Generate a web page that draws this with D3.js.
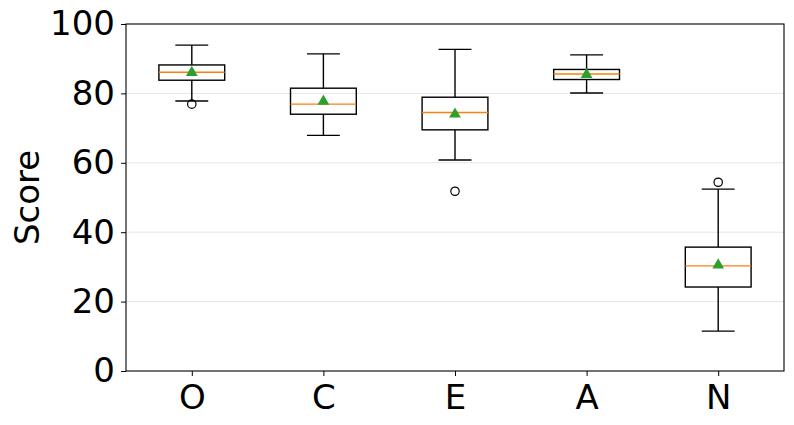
<!DOCTYPE html>
<html>
<head>
<meta charset="utf-8">
<script src="https://cdn.jsdelivr.net/npm/d3@7"></script>
<style>
  body { margin: 0; background: #fff; }
  svg text { font-family: "DejaVu Sans", sans-serif; fill: #000; }
</style>
</head>
<body>
<div id="chart"></div>
<script>
// DATA
var traits   = ['O', 'C', 'E', 'A', 'N'];
var whiskLo  = [77.8, 67.9, 60.8, 80.1, 11.5];
var q1       = [83.8, 74.0, 69.5, 84.0, 24.2];
var median   = [86.1, 76.9, 74.5, 85.6, 30.3];
var q3       = [88.2, 81.5, 78.9, 86.9, 35.7];
var whiskHi  = [93.9, 91.4, 92.7, 91.1, 52.4];
var means    = [86.0, 77.7, 74.0, 85.4, 30.5];
var outliers = [[76.9], [], [51.8], [], [54.4]];
var yTicks   = [0, 20, 40, 60, 80, 100];

// SET UP DIMENSIONS
var W = 794, H = 425;
var margin = { top: 24, right: 10, bottom: 54, left: 126 };
var w = 784 - margin.left,
    h = 371 - margin.top;

var svg = d3.select('#chart').append('svg')
  .attr('width', W)
  .attr('height', H)
  .append('g')
  .attr('transform', translation(margin.left, margin.top));

// SCALES - positions 1..5, limits 0.5..5.5 like a pyplot boxplot
var xScale = d3.scaleLinear().domain([0.5, 5.5]).range([0, w]);
var yScale = d3.scaleLinear().domain([0, 100]).range([h, 0]);
var unit = xScale(2) - xScale(1);

var data = traits.map(function(t, i) {
  return { name: t, pos: i + 1, lo: whiskLo[i], q1: q1[i], med: median[i],
           q3: q3[i], hi: whiskHi[i], mean: means[i], out: outliers[i] };
});

// GRID
svg.append('g')
  .selectAll('line')
  .data(yTicks.filter(function(d) { return d > 0 && d < 100; }))
  .enter().append('line')
  .attr('x1', 0).attr('x2', w)
  .attr('y1', function(d) { return yScale(d); })
  .attr('y2', function(d) { return yScale(d); })
  .attr('stroke', '#e5e5e5')
  .attr('stroke-width', 1);

// BOXES
var g = svg.selectAll('.box')
  .data(data)
  .enter().append('g')
  .attr('class', 'box');

// whiskers
g.append('line')
  .attr('x1', function(d) { return xScale(d.pos); })
  .attr('x2', function(d) { return xScale(d.pos); })
  .attr('y1', function(d) { return yScale(d.q3); })
  .attr('y2', function(d) { return yScale(d.hi); })
  .attr('stroke', '#000').attr('stroke-width', 1.4);
g.append('line')
  .attr('x1', function(d) { return xScale(d.pos); })
  .attr('x2', function(d) { return xScale(d.pos); })
  .attr('y1', function(d) { return yScale(d.q1); })
  .attr('y2', function(d) { return yScale(d.lo); })
  .attr('stroke', '#000').attr('stroke-width', 1.4);

// caps
['hi', 'lo'].forEach(function(k) {
  g.append('line')
    .attr('x1', function(d) { return xScale(d.pos - 0.125); })
    .attr('x2', function(d) { return xScale(d.pos + 0.125); })
    .attr('y1', function(d) { return yScale(d[k]); })
    .attr('y2', function(d) { return yScale(d[k]); })
    .attr('stroke', '#000').attr('stroke-width', 1.4);
});

// box rect
g.append('rect')
  .attr('x', function(d) { return xScale(d.pos - 0.25); })
  .attr('y', function(d) { return yScale(d.q3); })
  .attr('width', unit * 0.5)
  .attr('height', function(d) { return yScale(d.q1) - yScale(d.q3); })
  .attr('fill', 'none')
  .attr('stroke', '#000').attr('stroke-width', 1.4);

// median
g.append('line')
  .attr('x1', function(d) { return xScale(d.pos - 0.25); })
  .attr('x2', function(d) { return xScale(d.pos + 0.25); })
  .attr('y1', function(d) { return yScale(d.med); })
  .attr('y2', function(d) { return yScale(d.med); })
  .attr('stroke', '#ff7f0e').attr('stroke-width', 1.4);

// mean triangle
var tri = d3.symbol().type(d3.symbolTriangle).size(60);
g.append('path')
  .attr('d', tri)
  .attr('transform', function(d) { return translation(xScale(d.pos), yScale(d.mean)); })
  .attr('fill', '#2ca02c');

// fliers
g.selectAll('.flier')
  .data(function(d) { return d.out.map(function(v) { return { pos: d.pos, v: v }; }); })
  .enter().append('circle')
  .attr('class', 'flier')
  .attr('cx', function(d) { return xScale(d.pos); })
  .attr('cy', function(d) { return yScale(d.v); })
  .attr('r', 4.2)
  .attr('fill', 'none')
  .attr('stroke', '#000').attr('stroke-width', 1.2);

// AXES
var yAxis = d3.axisLeft(yScale).tickValues(yTicks).tickSize(5).tickPadding(6);
var xAxis = d3.axisBottom(xScale)
  .tickValues(data.map(function(d) { return d.pos; }))
  .tickFormat(function(d) { return traits[d - 1]; })
  .tickSize(5).tickPadding(9);

var ya = svg.append('g').call(yAxis);
var xa = svg.append('g').attr('transform', translation(0, h)).call(xAxis);
[ya, xa].forEach(function(a) {
  a.select('.domain').remove();
  a.selectAll('.tick line').attr('stroke', '#000').attr('stroke-width', 1);
  a.selectAll('text').style('font-size', '34px').style('font-family', '"DejaVu Sans", sans-serif');
});

// frame
svg.append('rect')
  .attr('x', 0).attr('y', 0).attr('width', w).attr('height', h)
  .attr('fill', 'none').attr('stroke', '#000').attr('stroke-width', 1.1);

// Y LABEL
svg.append('text')
  .attr('transform', translation(-87, h / 2) + ' rotate(-90)')
  .attr('text-anchor', 'middle')
  .style('font-size', '34px')
  .text('Score');

function translation(x, y) {
  return 'translate(' + x + ',' + y + ')';
}
</script>
</body>
</html>
